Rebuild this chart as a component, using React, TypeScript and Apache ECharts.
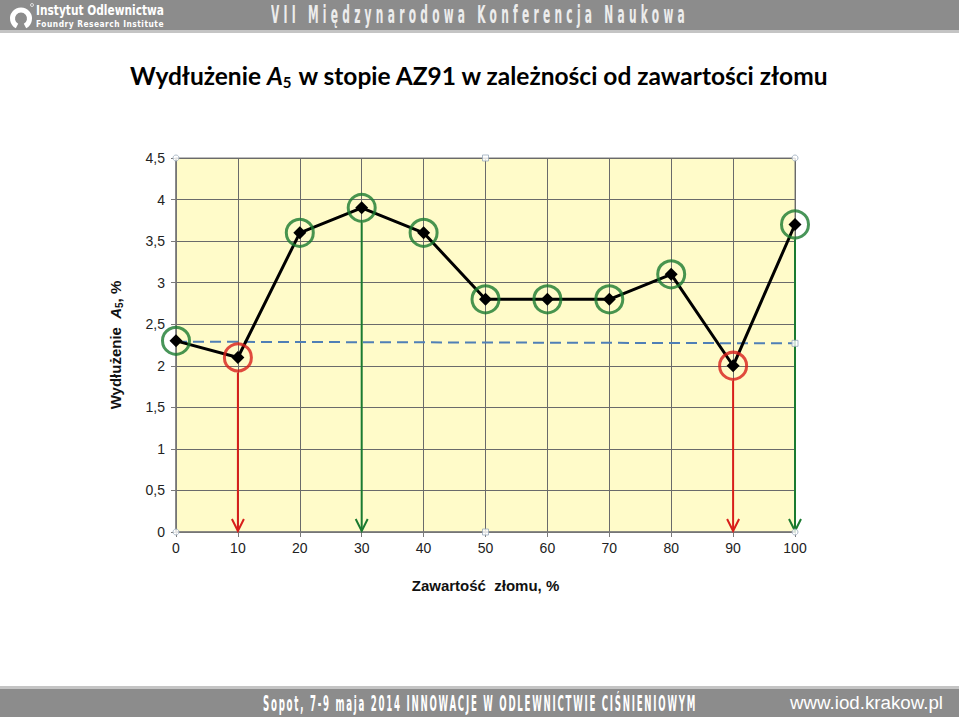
import React, { useEffect, useRef, useLayoutEffect } from "react";
import * as echarts from "echarts";

// ---- data ----
const scrapContent = [0, 10, 20, 30, 40, 50, 60, 70, 80, 90, 100];
const elongation = [2.3, 2.1, 3.6, 3.9, 3.6, 2.8, 2.8, 2.8, 3.1, 2.0, 3.7];
const pointStatus = ["ok", "low", "ok", "ok", "ok", "ok", "ok", "ok", "ok", "low", "ok"];
const arrowPoints = [10, 30, 90, 100];
const referenceX = [0, 100];
const referenceY = [2.29, 2.27];
const yMin = 0;
const yMax = 4.5;
const yStep = 0.5;
const xMin = 0;
const xMax = 100;
const xStep = 10;

const GREEN = "#1a7a30";
const RED = "#d81e1a";

function FitText({ text, width, style }: { text: string; width: number; style: React.CSSProperties }) {
  const ref = useRef<HTMLSpanElement>(null);
  useLayoutEffect(() => {
    const el = ref.current;
    if (!el) return;
    el.style.transform = "none";
    const w = el.getBoundingClientRect().width;
    if (w > 0) el.style.transform = `scaleX(${width / w})`;
  }, [text, width]);
  return (
    <span ref={ref} style={{ display: "inline-block", whiteSpace: "nowrap", transformOrigin: "0 0", ...style }}>
      {text}
    </span>
  );
}

export default function App() {
  const ref = useRef<HTMLDivElement>(null);

  useEffect(() => {
    if (!ref.current) return;
    const chart = echarts.init(ref.current, undefined, { renderer: "svg" });
    const lineData = scrapContent.map((x, i) => [x, elongation[i]]);
    const circleData = scrapContent.map((x, i) => ({
      value: [x, elongation[i]],
      itemStyle: {
        color: "rgba(0,0,0,0)",
        borderColor: pointStatus[i] === "ok" ? GREEN : RED,
        borderWidth: 3,
      },
    }));
    const arrowData = arrowPoints.map((x) => {
      const i = scrapContent.indexOf(x);
      return [x, elongation[i], pointStatus[i] === "ok" ? 0 : 1];
    });
    const handleData = [
      { value: [xMin, yMax], symbol: "circle" },
      { value: [50, yMax], symbol: "rect" },
      { value: [xMax, yMax], symbol: "circle" },
      { value: [xMin, yMin], symbol: "circle" },
      { value: [50, yMin], symbol: "rect" },
      { value: [xMax, yMin], symbol: "circle" },
      { value: [referenceX[1], referenceY[1]], symbol: "rect" },
    ];

    const titleFont = "Lato, 'Open Sans', 'Liberation Sans', sans-serif";
    const axisFont = "'Liberation Sans', Arial, sans-serif";

    chart.setOption({
      animation: false,
      backgroundColor: "#ffffff",
      title: {
        text: "Wydłużenie {i|A}{s|5} w stopie AZ91 w zależności od zawartości złomu",
        left: "center",
        top: 56,
        textStyle: {
          fontFamily: titleFont,
          fontWeight: "bold",
          fontSize: 24.5,
          color: "#000",
          rich: {
            i: {
              fontFamily: titleFont,
              fontWeight: "bold",
              fontStyle: "italic",
              fontSize: 24.5,
              color: "#000",
            },
            s: {
              fontFamily: titleFont,
              fontWeight: "bold",
              fontSize: 15,
              color: "#000",
              padding: [13, 0, 0, 0],
            },
          },
        },
      },
      grid: {
        left: 176,
        right: 164,
        top: 158,
        bottom: 185,
        show: true,
        backgroundColor: "#fffbc9",
        borderColor: "#7a7a7a",
        borderWidth: 1,
      },
      xAxis: {
        type: "value",
        min: xMin,
        max: xMax,
        interval: xStep,
        name: "Zawartość  złomu, %",
        nameLocation: "middle",
        nameGap: 46,
        nameTextStyle: {
          fontFamily: axisFont,
          fontWeight: "bold",
          fontSize: 15,
          color: "#111",
        },
        axisLine: { show: true, lineStyle: { color: "#7a7a7a", width: 1.5 } },
        axisTick: { show: true, length: 5, lineStyle: { color: "#7a7a7a" } },
        axisLabel: {
          fontFamily: axisFont,
          fontSize: 14,
          color: "#222",
          margin: 9,
        },
        splitLine: { show: true, lineStyle: { color: "#6a6a6a", width: 1 } },
      },
      yAxis: {
        type: "value",
        min: yMin,
        max: yMax,
        interval: yStep,
        name: "Wydłużenie  {i|A}{s|5}, %",
        nameLocation: "middle",
        nameGap: 52,
        nameRotate: 90,
        nameTextStyle: {
          fontFamily: axisFont,
          fontWeight: "bold",
          fontSize: 15,
          color: "#111",
          rich: {
            i: {
              fontFamily: axisFont,
              fontWeight: "bold",
              fontStyle: "italic",
              fontSize: 15,
              color: "#111",
            },
            s: {
              fontFamily: axisFont,
              fontSize: 10,
              color: "#111",
              padding: [7, 0, 0, 0],
            },
          },
        },
        axisLine: { show: true, lineStyle: { color: "#7a7a7a", width: 1.5 } },
        axisTick: { show: true, length: 5, lineStyle: { color: "#7a7a7a" } },
        axisLabel: {
          fontFamily: axisFont,
          fontSize: 14,
          color: "#222",
          margin: 11,
          formatter: (v: number) => String(v).replace(".", ","),
        },
        splitLine: { show: true, lineStyle: { color: "#6a6a6a", width: 1 } },
      },
      series: [
        {
          type: "line",
          name: "reference",
          data: referenceX.map((x, i) => [x, referenceY[i]]),
          symbol: "none",
          lineStyle: { color: "#4f7fb6", width: 2, type: [11, 6] },
          silent: true,
          z: 2,
        },
        {
          type: "custom",
          name: "arrows",
          data: arrowData,
          silent: true,
          z: 3,
          renderItem: (params: any, api: any) => {
            const x = api.value(0);
            const y = api.value(1);
            const color = api.value(2) === 0 ? GREEN : RED;
            const top = api.coord([x, y]);
            const bottom = api.coord([x, yMin]);
            const startY = top[1] + 15;
            return {
              type: "group",
              children: [
                {
                  type: "line",
                  shape: { x1: top[0], y1: startY, x2: bottom[0], y2: bottom[1] - 1 },
                  style: { stroke: color, lineWidth: 2 },
                },
                {
                  type: "polyline",
                  shape: {
                    points: [
                      [bottom[0] - 6, bottom[1] - 13],
                      [bottom[0], bottom[1] - 1],
                      [bottom[0] + 6, bottom[1] - 13],
                    ],
                  },
                  style: { stroke: color, lineWidth: 2, fill: "none" },
                },
              ],
            };
          },
        },
        {
          type: "line",
          name: "A5",
          data: lineData,
          symbol: "diamond",
          symbolSize: 13,
          itemStyle: { color: "#000" },
          lineStyle: { color: "#000", width: 3 },
          z: 4,
        },
        {
          type: "scatter",
          name: "circles",
          data: circleData,
          symbol: "circle",
          symbolSize: 27,
          silent: true,
          z: 5,
        },
        {
          type: "scatter",
          name: "handles",
          data: handleData,
          symbolSize: 6,
          itemStyle: { color: "#ffffff", borderColor: "#9aaabb", borderWidth: 1 },
          silent: true,
          z: 6,
        },
      ],
    });
    return () => chart.dispose();
  }, []);

  const condensed = "'Liberation Sans Narrow', 'DejaVu Sans Condensed', 'Liberation Sans', sans-serif";

  return (
    <div style={{ position: "fixed", left: 0, top: 0, width: 959, height: 717, background: "#fff", overflow: "hidden" }}>
      <div ref={ref} style={{ position: "absolute", left: 0, top: 0, width: 959, height: 717 }} />
      {/* header */}
      <div style={{ position: "absolute", left: 0, top: 0, width: 959, height: 30, background: "#8c8c8c" }} />
      <div style={{ position: "absolute", left: 0, top: 30, width: 959, height: 3, background: "#c4c4c4" }} />
      <svg style={{ position: "absolute", left: 7, top: 2 }} width={28} height={28}>
        <path d="M10,24 A8.5,8.5 0 1 1 18,24" stroke="#fff" strokeWidth={5} fill="none" strokeLinecap="butt" />
        <circle cx={25} cy={3} r={1.5} fill="none" stroke="#fff" strokeWidth={0.7} />
      </svg>
      <div style={{ position: "absolute", left: 36, top: 2, height: 16, lineHeight: "16px" }}>
        <FitText
          text="Instytut Odlewnictwa"
          width={128}
          style={{ fontFamily: "'DejaVu Sans', sans-serif", fontWeight: "bold", fontSize: 14, color: "#fff" }}
        />
      </div>
      <div style={{ position: "absolute", left: 36, top: 16, height: 12, lineHeight: "12px" }}>
        <FitText
          text="Foundry Research Institute"
          width={128}
          style={{ fontFamily: "'DejaVu Sans', sans-serif", fontWeight: "bold", fontSize: 9, color: "#fff", letterSpacing: 0.6 }}
        />
      </div>
      <div style={{ position: "absolute", left: 271, top: 1, height: 28, lineHeight: "28px" }}>
        <FitText
          text="VII Międzynarodowa Konferencja Naukowa"
          width={418}
          style={{ fontFamily: condensed, fontWeight: "bold", fontSize: 25, color: "#ececec", letterSpacing: 9 }}
        />
      </div>
      {/* footer */}
      <div style={{ position: "absolute", left: 0, top: 686, width: 959, height: 3, background: "#c4c4c4" }} />
      <div style={{ position: "absolute", left: 0, top: 689, width: 959, height: 28, background: "#8c8c8c" }} />
      <div style={{ position: "absolute", left: 263, top: 690, height: 27, lineHeight: "27px" }}>
        <FitText
          text="Sopot, 7-9 maja 2014 INNOWACJE W ODLEWNICTWIE CIŚNIENIOWYM"
          width={434}
          style={{ fontFamily: condensed, fontWeight: "bold", fontSize: 22, color: "#fff", letterSpacing: 4 }}
        />
      </div>
      <div style={{ position: "absolute", left: 790, top: 690, height: 27, lineHeight: "27px" }}>
        <FitText
          text="www.iod.krakow.pl"
          width={153}
          style={{ fontFamily: "'Liberation Sans', Arial, sans-serif", fontSize: 18, color: "#fff" }}
        />
      </div>
    </div>
  );
}
